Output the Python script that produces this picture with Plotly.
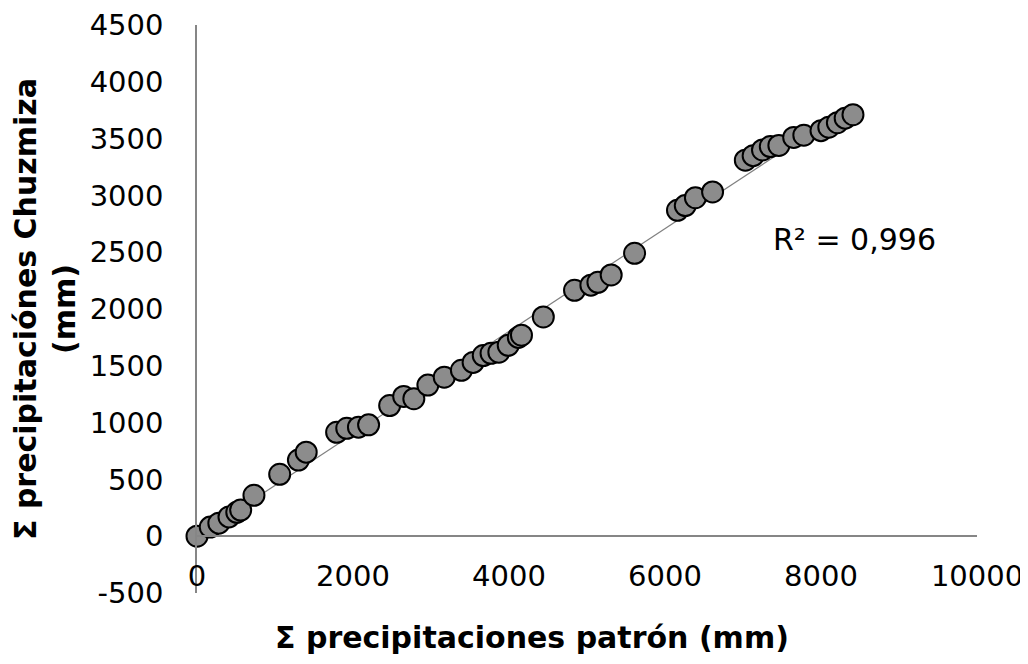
import numpy as np
import plotly.graph_objects as go

# Σ precipitaciones patrón (mm)
x_patron = [0, 170, 280, 410, 510, 560, 730, 1060, 1300, 1400,
            1790, 1920, 2070, 2200, 2470, 2650, 2780, 2960, 3170, 3390,
            3540, 3670, 3770, 3870, 3990, 4120, 4160, 4440, 4840, 5050,
            5140, 5310, 5610, 6160, 6260, 6390, 6610, 7030, 7130, 7250,
            7350, 7460, 7650, 7780, 8000, 8100, 8210, 8310, 8410]
# Σ precipitaciónes Chuzmiza (mm)
y_chuzmiza = [0, 80, 115, 170, 210, 230, 360, 545, 670, 740,
              915, 950, 960, 980, 1150, 1230, 1210, 1330, 1400, 1460,
              1530, 1590, 1610, 1620, 1680, 1750, 1769, 1930, 2165, 2210,
              2235, 2300, 2490, 2869, 2910, 2980, 3030, 3310, 3350, 3400,
              3430, 3440, 3510, 3530, 3570, 3600, 3640, 3680, 3710]

x_ticks = [0, 2000, 4000, 6000, 8000, 10000]
y_ticks = [-500, 0, 500, 1000, 1500, 2000, 2500, 3000, 3500, 4000, 4500]
r2_label = "R² = 0,996"

xa = np.array(x_patron, dtype=float)
ya = np.array(y_chuzmiza, dtype=float)
slope, intercept = np.polyfit(xa, ya, 1)
x_fit = [xa.min(), xa.max()]
y_fit = [slope * v + intercept for v in x_fit]

FONT = "DejaVu Sans, Verdana, sans-serif"

fig = go.Figure()
fig.add_trace(go.Scatter(
    x=x_fit, y=y_fit, mode="lines",
    line=dict(color="#808080", width=1.2),
    cliponaxis=False, showlegend=False, hoverinfo="skip"))
fig.add_trace(go.Scatter(
    x=x_patron, y=y_chuzmiza, mode="markers",
    marker=dict(size=21, color="#8c8c8c", line=dict(color="#000000", width=2)),
    cliponaxis=False, showlegend=False, hoverinfo="x+y"))

fig.update_layout(
    width=1028, height=664,
    margin=dict(l=189, r=59, t=17, b=79),
    paper_bgcolor="white", plot_bgcolor="white",
    font=dict(family=FONT, size=30, color="#000000"),
    xaxis=dict(
        range=[0, 10000], tickvals=x_ticks, ticktext=[str(v) for v in x_ticks],
        showgrid=False, zeroline=False, showline=True, linecolor="#868686",
        linewidth=1.5, ticks="", anchor="free", position=0.1,
        ticklabelstandoff=14, automargin=False,
        tickfont=dict(family=FONT, size=29, color="#000000")),
    yaxis=dict(
        range=[-500, 4500], tickvals=y_ticks, ticktext=[str(v) for v in y_ticks],
        showgrid=False, zeroline=False, showline=True, linecolor="#868686",
        linewidth=1.5, ticks="", ticklabelstandoff=26, automargin=False,
        tickfont=dict(family=FONT, size=29, color="#000000"),
        title=dict(text="Σ precipitaciónes Chuzmiza<br>(mm)",
                   font=dict(family=FONT, size=30, color="#000000", weight="bold"),
                   standoff=12)),
    annotations=[
        dict(text="Σ precipitaciones patrón (mm)", xref="paper", yref="paper",
             x=0.43, y=-0.079, xanchor="center", yanchor="middle",
             showarrow=False,
             font=dict(family=FONT, size=30, color="#000000", weight="bold")),
        dict(text=r2_label, x=8435, y=2610, xref="x", yref="y",
             xanchor="center", yanchor="middle", showarrow=False,
             font=dict(family=FONT, size=30, color="#000000")),
    ],
)

fig.write_html("out.html")
